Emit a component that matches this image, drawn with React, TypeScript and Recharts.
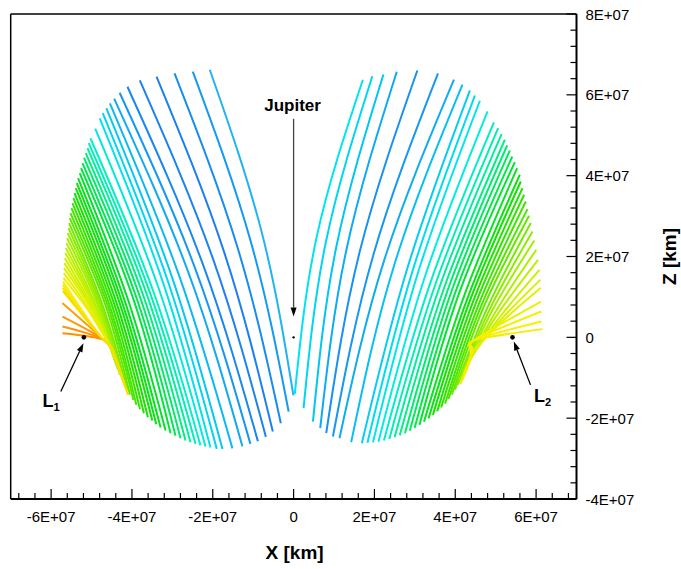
import React from "react";
import { LineChart, Line, XAxis, YAxis, ReferenceLine, ReferenceDot } from "recharts";

const E7 = 1e7;
const FONT = "'Liberation Sans', Arial, Helvetica, sans-serif";

// all positions below are in units of 1E+07 km
// left family (L1 side), from the Jupiter side outwards
const leftTopX = [-2.074, -2.494, -2.946, -3.39, -3.805, -4.111, -4.304, -4.44, -4.546, -4.632, -4.723, -4.798, -4.909, -5.025, -5.069, -5.101, -5.143, -5.185, -5.225, -5.259, -5.291, -5.333, -5.365, -5.39, -5.422, -5.447, -5.472, -5.496, -5.521, -5.538, -5.556, -5.57, -5.588, -5.605, -5.62, -5.637, -5.649, -5.662, -5.674, -5.681, -5.686, -5.694];
const leftTopZ = [6.621, 6.572, 6.53, 6.448, 6.356, 6.2, 6.052, 5.908, 5.787, 5.668, 5.55, 5.416, 5.166, 4.921, 4.807, 4.683, 4.559, 4.443, 4.312, 4.188, 4.064, 3.941, 3.817, 3.693, 3.569, 3.446, 3.322, 3.198, 3.074, 2.95, 2.827, 2.703, 2.579, 2.455, 2.332, 2.208, 2.084, 1.96, 1.837, 1.713, 1.589, 1.473];
const leftMidX = [-0.787, -1.059, -1.381, -1.702, -1.996, -2.248, -2.437, -2.604, -2.83, -2.996, -3.112, -3.228, -3.345, -3.465, -3.548, -3.626, -3.709, -3.792, -3.873, -3.952, -4.08, -4.162, -4.232, -4.293, -4.364, -4.426, -4.487, -4.544, -4.593, -4.644, -4.715, -4.755, -4.793, -4.831, -4.883, -4.914, -4.938, -4.983, -5.008, -5.03, -5.071, -5.093];
const leftMidZ = [2.593, 2.368, 2.203, 2.058, 1.947, 1.816, 1.708, 1.605, 1.52, 1.452, 1.395, 1.347, 1.232, 1.122, 1.086, 1.045, 1.003, 0.974, 0.937, 0.909, 0.879, 0.854, 0.834, 0.817, 0.797, 0.785, 0.773, 0.764, 0.764, 0.764, 0.764, 0.764, 0.764, 0.764, 0.764, 0.764, 0.764, 0.764, 0.752, 0.739, 0.714, 0.687];
const leftEndX = [-0.005, -0.123, -0.316, -0.514, -0.686, -0.884, -1.069, -1.267, -1.514, -1.76, -1.901, -2.057, -2.18, -2.304, -2.427, -2.551, -2.674, -2.798, -2.921, -3.044, -3.168, -3.291, -3.398, -3.496, -3.605, -3.704, -3.802, -3.891, -3.965, -4.049, -4.114, -4.18, -4.237, -4.296, -4.346, -4.39, -4.427, -4.464, -4.501, -4.538, -4.575, -4.612];
const leftEndZ = [-1.436, -1.837, -2.124, -2.332, -2.463, -2.569, -2.636, -2.698, -2.748, -2.765, -2.76, -2.723, -2.703, -2.678, -2.636, -2.594, -2.554, -2.495, -2.438, -2.371, -2.307, -2.233, -2.149, -2.059, -1.975, -1.876, -1.777, -1.671, -1.547, -1.423, -1.3, -1.176, -1.052, -0.928, -0.804, -0.681, -0.557, -0.433, -0.334, -0.235, -0.161, -0.099];

// yellow bundle through the point next to L1
const lYellowTopX = [-5.704, -5.711, -5.711, -5.711];
const lYellowTopZ = [1.374, 1.3, 1.225, 1.151];
const lYellowConvX = [-4.773, -4.76, -4.748, -4.736];
const lYellowConvZ = [0.012, 0.0, -0.012, -0.025];
const lYellowKneeX = [-4.501, -4.489, -4.477, -4.464];
const lYellowKneeZ = [-0.26, -0.285, -0.309, -0.334];
const lYellowEndX = [-4.205, -4.168, -4.131, -4.094];
const lYellowEndZ = [-1.126, -1.225, -1.324, -1.423];

// orange curves left of L1
const lOrangeTopX = [-5.719, -5.719, -5.719, -5.719];
const lOrangeTopZ = [0.847, 0.515, 0.267, 0.104];
const lOrangeConvX = [-4.723, -4.699, -4.674, -4.649];
const lOrangeConvZ = [-0.037, -0.05, -0.062, -0.074];
const lOrangeEndX = [-4.477, -4.452, -4.427, -4.402];
const lOrangeEndZ = [-0.334, -0.384, -0.433, -0.483];

// right family (L2 side), from the Jupiter side outwards
const rightTopX = [1.714, 1.948, 2.222, 2.553, 3.062, 3.573, 3.968, 4.178, 4.363, 4.486, 4.61, 4.8, 4.956, 5.062, 5.146, 5.227, 5.284, 5.351, 5.412, 5.474, 5.531, 5.598, 5.622, 5.664, 5.704, 5.746, 5.788, 5.827, 5.869, 5.911, 5.956, 6.005, 6.049, 6.084, 6.104, 6.116];
const rightTopZ = [6.374, 6.46, 6.502, 6.572, 6.601, 6.53, 6.374, 6.25, 6.109, 5.983, 5.854, 5.589, 5.317, 5.178, 5.03, 4.889, 4.748, 4.624, 4.475, 4.337, 4.188, 4.022, 3.856, 3.693, 3.527, 3.361, 3.173, 3.007, 2.827, 2.619, 2.396, 2.166, 1.918, 1.671, 1.423, 1.225];
const rightMidX = [0.572, 0.798, 1.051, 1.306, 1.635, 1.973, 2.252, 2.502, 2.826, 2.957, 3.087, 3.25, 3.396, 3.515, 3.623, 3.727, 3.82, 3.914, 4.004, 4.094, 4.229, 4.318, 4.385, 4.459, 4.528, 4.597, 4.66, 4.722, 4.81, 4.867, 4.919, 4.993, 5.042, 5.104, 5.136, 5.18];
const rightMidZ = [2.488, 2.354, 2.209, 2.162, 2.115, 2.038, 1.94, 1.828, 1.745, 1.687, 1.628, 1.504, 1.383, 1.331, 1.279, 1.232, 1.187, 1.158, 1.118, 1.086, 1.051, 1.008, 0.969, 0.931, 0.896, 0.86, 0.823, 0.796, 0.766, 0.722, 0.672, 0.623, 0.563, 0.503, 0.444, 0.409];
const rightEndX = [0.03, 0.247, 0.479, 0.659, 0.807, 0.973, 1.136, 1.425, 1.689, 1.827, 1.963, 2.099, 2.235, 2.368, 2.499, 2.627, 2.756, 2.877, 2.995, 3.114, 3.227, 3.338, 3.447, 3.553, 3.652, 3.748, 3.832, 3.916, 3.99, 4.062, 4.121, 4.18, 4.235, 4.284, 4.328, 4.363];
const rightEndZ = [-1.399, -1.752, -2.084, -2.248, -2.371, -2.455, -2.495, -2.594, -2.619, -2.609, -2.599, -2.582, -2.552, -2.517, -2.473, -2.426, -2.374, -2.309, -2.24, -2.166, -2.087, -2.007, -1.918, -1.832, -1.735, -1.641, -1.527, -1.416, -1.295, -1.176, -1.052, -0.921, -0.792, -0.666, -0.535, -0.408];

// yellow bundle through the point next to L2
const rYellowTopX = [6.123, 6.128, 6.133, 6.158];
const rYellowTopZ = [0.886, 0.639, 0.391, 0.203];
const rYellowConvX = [4.536, 4.523, 4.511, 4.499];
const rYellowConvZ = [-0.025, -0.037, -0.05, -0.062];
const rYellowKneeX = [4.425, 4.412, 4.4, 4.388];
const rYellowKneeZ = [-0.285, -0.322, -0.359, -0.396];
const rYellowEndX = [4.24, 4.202, 4.165, 4.128];
const rYellowEndZ = [-0.854, -0.953, -1.052, -1.151];

// axis ticks (1E+07 km)
const xMajorTicks = [-6, -4, -2, 0, 2, 4, 6];
const xMinorTicks = [-6.8, -6.4, -5.6, -5.2, -4.8, -4.4, -3.6, -3.2, -2.8, -2.4, -1.6, -1.2, -0.8, -0.4, 0.4, 0.8, 1.2, 1.6, 2.4, 2.8, 3.2, 3.6, 4.4, 4.8, 5.2, 5.6, 6.4, 6.8];
const zMajorTicks = [-4, -2, 0, 2, 4, 6, 8];
const zMinorTicks = [-3.6, -3.2, -2.8, -2.4, -1.6, -1.2, -0.8, -0.4, 0.4, 0.8, 1.2, 1.6, 2.4, 2.8, 3.2, 3.6, 4.4, 4.8, 5.2, 5.6, 6.4, 6.8, 7.2, 7.6];

// annotations
const jupiter = { x: 0, z: 0 };
const jupiterArrow = [{ x: 0, z: 5.408 }, { x: 0, z: 0.515 }];
const l1Point = { x: -5.19, z: 0 };
const l1Arrow = [{ x: -5.76, z: -1.342 }, { x: -5.2, z: -0.144 }];
const l2Point = { x: 5.417, z: 0 };
const l2Arrow = [{ x: 5.862, z: -1.176 }, { x: 5.449, z: -0.104 }];

const leftStops: [number, string][] = [
  [1, "#22b4f0"], [2, "#149af2"], [4, "#1e7ef0"], [6, "#1a86f0"], [8, "#12aaf0"],
  [10, "#04caf0"], [12, "#00e2ec"], [14, "#00f0c8"], [16, "#00f0a0"], [18, "#00ea68"],
  [21, "#00e228"], [25, "#18e000"], [29, "#50e600"], [33, "#98ee00"], [37, "#c8f000"],
  [42, "#ecf000"],
];
const rightStops: [number, string][] = [
  [1, "#00e4f0"], [3, "#00c6f2"], [5, "#1a90f0"], [6, "#1698f0"], [8, "#08c0f0"],
  [10, "#00dcf0"], [12, "#00eee0"], [14, "#00f0b4"], [17, "#00ee70"], [20, "#00e630"],
  [23, "#10e200"], [27, "#50e600"], [31, "#a0ee00"], [34, "#ccf000"], [36, "#e4f000"],
];
const leftYellowColors = ["#f4f000", "#f8ec00", "#f8e400", "#f8dc00"];
const leftOrangeColors = ["#ffa000", "#ff9800", "#ff9400", "#ff9000"];
const rightYellowColors = ["#eef000", "#f4f000", "#f8f000", "#f8ec00"];

function hexToRgb(h: string) {
  const n = parseInt(h.slice(1), 16);
  return [(n >> 16) & 255, (n >> 8) & 255, n & 255];
}

function colorAt(stops: [number, string][], k: number) {
  if (k <= stops[0][0]) return stops[0][1];
  for (let i = 1; i < stops.length; i++) {
    const [k1, c1] = stops[i];
    const [k0, c0] = stops[i - 1];
    if (k <= k1) {
      const t = (k - k0) / (k1 - k0);
      const a = hexToRgb(c0);
      const b = hexToRgb(c1);
      const m = a.map((v, j) => Math.round(v + (b[j] - v) * t));
      return `rgb(${m[0]},${m[1]},${m[2]})`;
    }
  }
  return stops[stops.length - 1][1];
}

type Pt = { x: number; z: number };

function curve(xs: number[], zs: number[]): Pt[] {
  return xs.map((x, i) => ({ x: x * E7, z: zs[i] * E7 }));
}

const leftCurves = leftTopX.map((_, i) =>
  curve([leftTopX[i], leftMidX[i], leftEndX[i]], [leftTopZ[i], leftMidZ[i], leftEndZ[i]])
);
const rightCurves = rightTopX.map((_, i) =>
  curve([rightTopX[i], rightMidX[i], rightEndX[i]], [rightTopZ[i], rightMidZ[i], rightEndZ[i]])
);
const leftYellow = lYellowTopX.map((_, i) =>
  curve(
    [lYellowTopX[i], lYellowConvX[i], lYellowKneeX[i], lYellowEndX[i]],
    [lYellowTopZ[i], lYellowConvZ[i], lYellowKneeZ[i], lYellowEndZ[i]]
  )
);
const leftOrange = lOrangeTopX.map((_, i) =>
  curve([lOrangeTopX[i], lOrangeConvX[i], lOrangeEndX[i]], [lOrangeTopZ[i], lOrangeConvZ[i], lOrangeEndZ[i]])
);
const rightYellow = rYellowTopX.map((_, i) =>
  curve(
    [rYellowTopX[i], rYellowConvX[i], rYellowKneeX[i], rYellowEndX[i]],
    [rYellowTopZ[i], rYellowConvZ[i], rYellowKneeZ[i], rYellowEndZ[i]]
  )
);

const xMajorSet = new Set(xMajorTicks.map((v) => v * E7));
const zMajorSet = new Set(zMajorTicks.map((v) => v * E7));
const xTicks = [...xMinorTicks, ...xMajorTicks].map((v) => v * E7);
const zTicks = [...zMinorTicks, ...zMajorTicks].map((v) => v * E7);

const fmt = (v: number) => (v === 0 ? "0" : `${Math.round(v / E7)}E+07`);

const XTick = (props: any) => {
  const { x, y, payload } = props;
  const major = xMajorSet.has(payload.value);
  return (
    <g>
      <line x1={x} x2={x} y1={y} y2={y - (major ? 10 : 6)} stroke="#000" strokeWidth={1.2} />
      {major && (
        <text x={x} y={y + 17} textAnchor="middle" dominantBaseline="central" fontSize={15} fontFamily={FONT} fill="#000">
          {fmt(payload.value)}
        </text>
      )}
    </g>
  );
};

const ZTick = (props: any) => {
  const { x, y, payload } = props;
  const major = zMajorSet.has(payload.value);
  return (
    <g>
      <line x1={x} x2={x - (major ? 10 : 6)} y1={y} y2={y} stroke="#000" strokeWidth={1.2} />
      {major && (
        <text x={x + 9} y={y} textAnchor="start" dominantBaseline="central" fontSize={15} fontFamily={FONT} fill="#000">
          {fmt(payload.value)}
        </text>
      )}
    </g>
  );
};

const arrowShape = (stroke: string, label: (x: number, y: number) => React.ReactNode) => (props: any) => {
  const { x1, y1, x2, y2 } = props;
  const ang = Math.atan2(y2 - y1, x2 - x1);
  const len = 9;
  const w = 3;
  const bx = x2 - len * Math.cos(ang);
  const by = y2 - len * Math.sin(ang);
  const px = -Math.sin(ang) * w;
  const py = Math.cos(ang) * w;
  return (
    <g>
      <line x1={x1} y1={y1} x2={bx} y2={by} stroke={stroke} strokeWidth={1.3} />
      <polygon points={`${x2},${y2} ${bx + px},${by + py} ${bx - px},${by - py}`} fill="#000" />
      {label(x1, y1)}
    </g>
  );
};

const subLabel = (main: string, sub: string) => (x: number, y: number) => (
  <text x={x} y={y} fontSize={18} fontWeight="bold" fontFamily={FONT} fill="#000">
    {main}
    <tspan fontSize={11} dy={4}>
      {sub}
    </tspan>
  </text>
);

const seg = (p: Pt[]) => p.map((q) => ({ x: q.x * E7, y: q.z * E7 }));

export default function App() {
  return (
    <div style={{ position: "absolute", left: 0, top: 0, fontFamily: FONT }}>
      <LineChart width={681} height={569} margin={{ top: 14, right: 4.5, bottom: 10, left: 10.7 }}>
        <XAxis
          dataKey="x"
          type="number"
          domain={[-7 * E7, 7 * E7]}
          allowDataOverflow
          ticks={xTicks}
          interval={0}
          tick={<XTick />}
          tickLine={false}
          tickSize={0}
          tickMargin={0}
          height={60}
          axisLine={{ stroke: "#000", strokeWidth: 2 }}
          label={{
            content: (p: any) => {
              const vb = p.viewBox ?? { x: 10.7, y: 499, width: 565.8, height: 60 };
              return (
                <text x={vb.x + vb.width / 2 + 1} y={vb.y + 53} textAnchor="middle" dominantBaseline="central" fontSize={19} fontWeight="bold" fontFamily={FONT} fill="#000">
                  X [km]
                </text>
              );
            },
          }}
        />
        <YAxis
          type="number"
          orientation="right"
          domain={[-4 * E7, 8 * E7]}
          allowDataOverflow
          ticks={zTicks}
          interval={0}
          tick={<ZTick />}
          tickLine={false}
          tickSize={0}
          tickMargin={0}
          width={100}
          axisLine={{ stroke: "#000", strokeWidth: 2 }}
          label={{
            content: (p: any) => {
              const vb = p.viewBox ?? { x: 576.5, y: 14, width: 100, height: 485 };
              const cx = 669;
              const cy = vb.y + vb.height / 2;
              return (
                <text x={cx} y={cy} transform={`rotate(-90, ${cx}, ${cy})`} textAnchor="middle" dominantBaseline="central" fontSize={19} fontWeight="bold" fontFamily={FONT} fill="#000">
                  Z [km]
                </text>
              );
            },
          }}
        />
        <ReferenceLine y={8 * E7} stroke="#000" strokeWidth={1.5} />
        <ReferenceLine x={-7 * E7} stroke="#000" strokeWidth={1.5} />

        {leftOrange.map((d, i) => (
          <Line key={`lo${i}`} data={d} dataKey="z" type="natural" stroke={leftOrangeColors[i]} strokeWidth={2} dot={false} activeDot={false} isAnimationActive={false} />
        ))}
        {rightCurves.map((d, i) => (
          <Line key={`r${i}`} data={d} dataKey="z" type="natural" stroke={colorAt(rightStops, i + 1)} strokeWidth={2} dot={false} activeDot={false} isAnimationActive={false} />
        ))}
        {rightYellow.map((d, i) => (
          <Line key={`ry${i}`} data={d} dataKey="z" type="natural" stroke={rightYellowColors[i]} strokeWidth={2} dot={false} activeDot={false} isAnimationActive={false} />
        ))}
        {leftCurves.map((d, i) => (
          <Line key={`l${i}`} data={d} dataKey="z" type="natural" stroke={colorAt(leftStops, i + 1)} strokeWidth={2} dot={false} activeDot={false} isAnimationActive={false} />
        ))}
        {leftYellow.map((d, i) => (
          <Line key={`ly${i}`} data={d} dataKey="z" type="natural" stroke={leftYellowColors[i]} strokeWidth={2} dot={false} activeDot={false} isAnimationActive={false} />
        ))}

        <ReferenceDot x={jupiter.x * E7} y={jupiter.z * E7} r={1.2} fill="#000" stroke="none" />
        <ReferenceDot x={l1Point.x * E7} y={l1Point.z * E7} r={2.3} fill="#000" stroke="none" />
        <ReferenceDot x={l2Point.x * E7} y={l2Point.z * E7} r={2.3} fill="#000" stroke="none" />
        <ReferenceLine
          segment={seg(jupiterArrow)}
          ifOverflow="visible"
          shape={arrowShape("#444", (x, y) => (
            <text x={x - 1} y={y - 8} textAnchor="middle" fontSize={17} fontWeight="bold" fontFamily={FONT} fill="#000">
              Jupiter
            </text>
          ))}
        />
        <ReferenceLine segment={seg(l1Arrow)} ifOverflow="visible" shape={arrowShape("#000", (x, y) => subLabel("L", "1")(x - 18.3, y + 15.5))} />
        <ReferenceLine segment={seg(l2Arrow)} ifOverflow="visible" shape={arrowShape("#000", (x, y) => subLabel("L", "2")(x + 3.6, y + 16.7))} />
      </LineChart>
    </div>
  );
}
